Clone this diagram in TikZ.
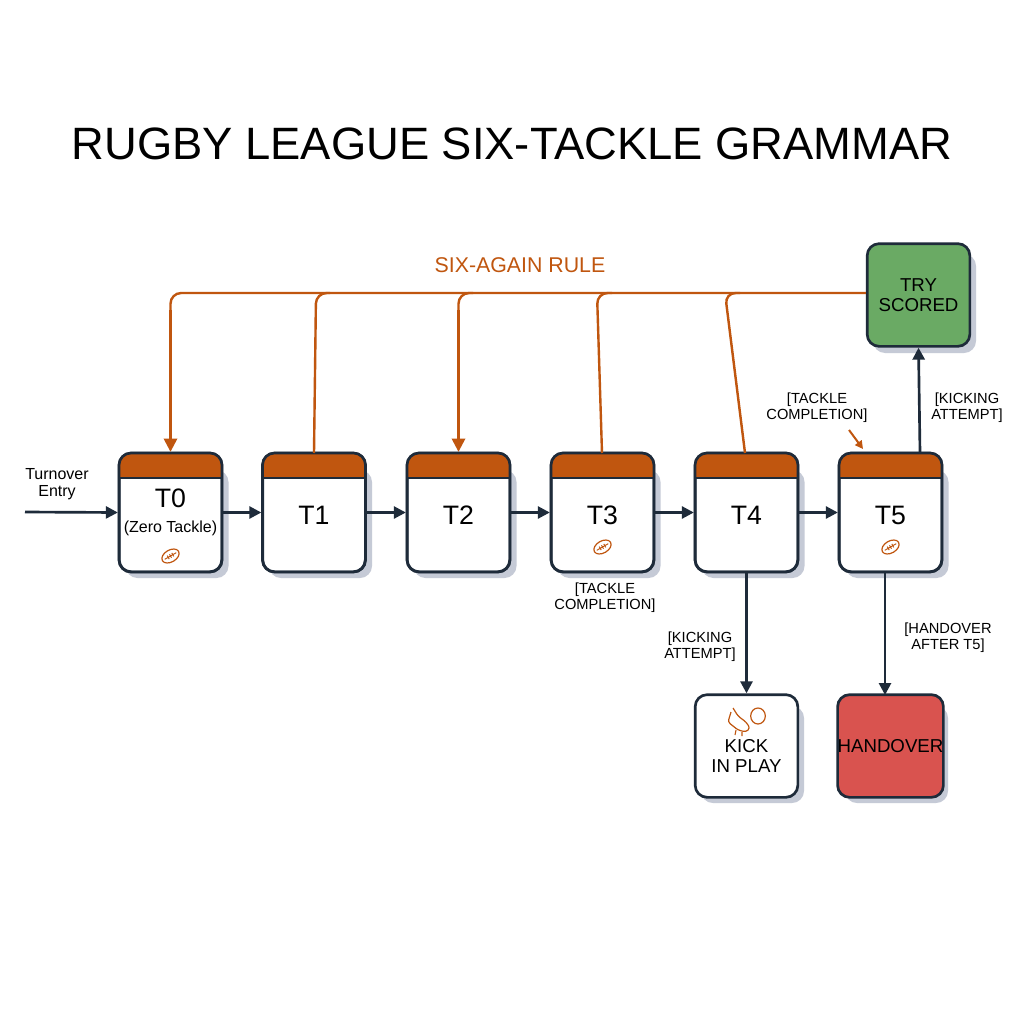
\documentclass[tikz,border=0pt]{standalone}
\usepackage{fontspec}
\setmainfont{Liberation Sans}
\usetikzlibrary{arrows.meta}
\definecolor{navy}{HTML}{1E2B3A}
\definecolor{org}{HTML}{C0560F}
\definecolor{grn}{HTML}{6AAA64}
\definecolor{rd}{HTML}{D9534F}
\definecolor{shd}{HTML}{C5CAD6}
\begin{document}
\begin{tikzpicture}[x=0.75pt,y=-0.75pt,
  box/.style={draw=navy,line width=2pt,rounded corners=9pt,minimum width=77pt,minimum height=77pt,inner sep=0pt,align=center,font=\fontsize{14}{15}\selectfont},
  st/.style={draw=navy,line width=2pt,rounded corners=9pt,minimum width=77pt,minimum height=89pt,inner sep=0pt,fill=white},
  arr/.style={draw=navy,line width=2pt,-{Triangle[length=9pt,width=9pt]}},
  oln/.style={draw=org,line width=1.8pt,rounded corners=8pt},
  oarr/.style={oln,-{Triangle[length=10pt,width=10pt]}},
  lbl/.style={font=\fontsize{11}{12}\selectfont,align=center,text=black},
  ball/.pic={\draw[org,line width=0.9pt,rotate=30] (0,0) ellipse (7pt and 4.5pt);
     \draw[org,line width=0.7pt,rotate=30] (-5pt,0)--(5pt,0) (-2pt,-1.5pt)--(-2pt,1.5pt) (0,-1.5pt)--(0,1.5pt) (2pt,-1.5pt)--(2pt,1.5pt);}]
\useasboundingbox (0,0) rectangle (1024,1024);
\fill[white] (0,0) rectangle (1024,1024);
\node (title) at (512,144) {\fontsize{34}{36}\selectfont RUGBY LEAGUE SIX-TACKLE GRAMMAR};
% states
\foreach \n/\x in {0/170.5,1/314,2/458.5,3/602.5,4/746.5,5/890.5}{
  \fill[shd,rounded corners=9pt] (\x-45,470) rectangle (\x+58,578);
  \node[st] (T\n) at (\x,512.5) {};
  \begin{scope}
   \clip[rounded corners=9pt] (\x-51.5,453) rectangle (\x+51.5,500);
   \fill[org] (\x-51.5,453) rectangle (\x+51.5,478);
  \end{scope}
  \draw[navy,line width=1.5pt] (\x-51.5,478)--(\x+51.5,478);
  \draw[navy,line width=2pt,rounded corners=9pt] (\x-51.5,453) rectangle (\x+51.5,572);
}
\node[font=\fontsize{20}{22}\selectfont] (l0) at (170.5,498) {T0};
\node[font=\fontsize{12}{13}\selectfont] (z0) at (170.5,528) {(Zero Tackle)};
\pic at (170.5,556) {ball};
\node[font=\fontsize{20}{22}\selectfont] (l1) at (314,515) {T1};
\node[font=\fontsize{20}{22}\selectfont] (l2) at (458.5,515) {T2};
\node[font=\fontsize{20}{22}\selectfont] (l3) at (602.5,515) {T3};
\pic at (602.5,547) {ball};
\node[font=\fontsize{20}{22}\selectfont] (l4) at (746.5,515) {T4};
\node[font=\fontsize{20}{22}\selectfont] (l5) at (890.5,515) {T5};
\pic at (890.5,547) {ball};
% terminal
\fill[shd,rounded corners=9pt] (873,254) rectangle (976,353);
\node[box,fill=grn] (try) at (918.5,295) {TRY\\SCORED};
\fill[shd,rounded corners=9pt] (701,706) rectangle (804,803);
\node[box,fill=white] (kick) at (746.5,746) {\\[10pt]KICK\\IN PLAY};
\fill[shd,rounded corners=9pt] (845,706) rectangle (948,803);
\node[box,fill=rd] (hand) at (890.5,746) {HANDOVER};
% kick icon
\draw[org,line width=0.9pt] (758,716) ellipse (5.5pt and 6pt);
\draw[org,line width=0.9pt,rounded corners=2pt] (733,708)--(738,716)--(746,722)--(750,728)--(746,732)--(738,730)--(728,722)--(731,712);
\draw[org,line width=0.8pt] (736,730)--(735,735) (742,732)--(742,736);
% chain
\coordinate (in) at (25,512);
\draw[arr] (in) -- (T0.west);
\node[lbl,font=\fontsize{12}{13}\selectfont] (te) at (57,484) {Turnover\\Entry};
\foreach \a/\b in {0/1,1/2,2/3,3/4,4/5}{\draw[arr] (T\a.east) -- (T\b.west);}
% six again
\node[text=org,font=\fontsize{16}{17}\selectfont] (six) at (520,265) {SIX-AGAIN RULE};
\draw[oln] (try.west |- 0,293) -- (170.5,293) -- (170.5,320);
\draw[oarr] (170.5,310) -- (T0.north);
\draw[oln] (330,293) -- (316,293) -- (314,453);
\draw[oln] (473,293) -- (458.5,293) -- (458.5,320);
\draw[oarr] (458.5,310) -- (T2.north);
\draw[oln] (612,293) -- (597,293) -- (602,453);
\draw[oln] (740,293) -- (725,293) -- (745,453);
% terminal edges
\draw[arr] (920,453) -- (try.south);
\node[lbl] (ka2) at (967,408) {[KICKING\\ATTEMPT]};
\node[lbl] (tc2) at (817,408) {[TACKLE\\COMPLETION]};
\coordinate (tcs) at (849,430);
\draw[org,line width=1.5pt,-{Triangle[length=6pt,width=6pt]}] (tcs) -- (863,449);
\node[lbl] (tc1) at (605,598) {[TACKLE\\COMPLETION]};
\draw[arr] (T4.south) -- (kick.north);
\node[lbl] (ka1) at (700,647) {[KICKING\\ATTEMPT]};
\draw[arr] (885,572) -- (885,695);
\node[lbl] (ho) at (948,638) {[HANDOVER\\AFTER T5]};
\end{tikzpicture}
\end{document}
